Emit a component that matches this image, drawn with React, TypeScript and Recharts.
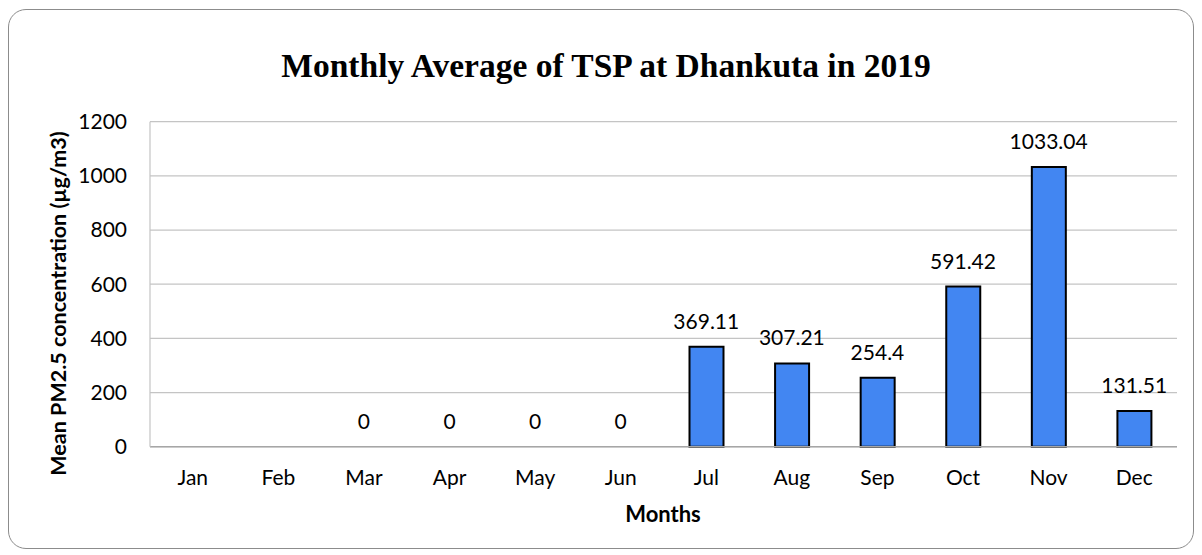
import React from "react";
import { ComposedChart, Bar, Line, XAxis, YAxis, CartesianGrid, LabelList, Label } from "recharts";

const months = ["Jan", "Feb", "Mar", "Apr", "May", "Jun", "Jul", "Aug", "Sep", "Oct", "Nov", "Dec"];
const tspValues: (number | null)[] = [null, null, 0, 0, 0, 0, 369.11, 307.21, 254.4, 591.42, 1033.04, 131.51];
const yTicks = [0, 200, 400, 600, 800, 1000, 1200];

const title = "Monthly Average of TSP at Dhankuta in 2019";
const yLabel = "Mean PM2.5 concentration (µg/m3)";
const xLabel = "Months";

const data = months.map((m, i) => ({ month: m, value: tspValues[i] }));

const FONT = "Lato, 'Open Sans', sans-serif";
const W = 1188;
const H = 542;

export default function App() {
  return (
    <div style={{ position: "relative", width: W, height: H }}>
      <div
        style={{
          position: "absolute",
          left: 0,
          top: 1,
          width: W - 2,
          height: H - 2,
          boxSizing: "border-box",
          border: "1.5px solid #8c8c8c",
          borderRadius: 18,
          background: "#fff",
        }}
      />
      <div
        style={{
          position: "absolute",
          left: 5,
          top: 39,
          width: W - 2,
          textAlign: "center",
          fontFamily: "'Liberation Serif', serif",
          fontWeight: "bold",
          fontSize: 33.5,
          lineHeight: "38px",
          color: "#000",
        }}
      >
        {title}
      </div>
      <div style={{ position: "absolute", left: 0, top: 0 }}>
        <ComposedChart
          width={W}
          height={H}
          data={data}
          margin={{ top: 113.7, right: 19, bottom: 43.3, left: 0 }}
          barCategoryGap={0}
        >
          <CartesianGrid vertical={false} stroke="#c4c4c4" strokeWidth={1.2} />
          <XAxis
            dataKey="month"
            height={60}
            tickLine={false}
            tickSize={0}
            tickMargin={23}
            axisLine={{ stroke: "#a6a6a6", strokeWidth: 1.5 }}
            tick={{ fill: "#000", fontFamily: FONT, fontSize: 21 }}
            interval={0}
          >
            <Label
              content={() => (
                <text
                  x={655}
                  y={513.7}
                  textAnchor="middle"
                  fontFamily={FONT}
                  fontWeight="bold"
                  fontSize={22}
                  fill="#000"
                >
                  {xLabel}
                </text>
              )}
            />
          </XAxis>
          <YAxis
            width={142}
            domain={[0, 1200]}
            ticks={yTicks}
            tickLine={false}
            tickSize={0}
            tickMargin={23}
            axisLine={{ stroke: "#c4c4c4", strokeWidth: 1.2 }}
            tick={{ fill: "#000", fontFamily: FONT, fontSize: 21 }}
          >
            <Label
              content={() => (
                <text
                  x={0}
                  y={0}
                  transform={`translate(57.5, 295.5) rotate(-90)`}
                  textAnchor="middle"
                  fontFamily={FONT}
                  fontWeight="bold"
                  fontSize={21.5}
                  fill="#000"
                >
                  {yLabel}
                </text>
              )}
            />
          </YAxis>
          <Bar
            dataKey="value"
            fill="#4286F2"
            stroke="#000"
            strokeWidth={2}
            barSize={34}
            isAnimationActive={false}
          />
          <Line
            dataKey="value"
            stroke="none"
            dot={false}
            activeDot={false}
            legendType="none"
            isAnimationActive={false}
          >
            <LabelList
              dataKey="value"
              position="top"
              offset={18}
              fill="#000"
              fontFamily={FONT}
              fontSize={21}
            />
          </Line>
        </ComposedChart>
      </div>
    </div>
  );
}
